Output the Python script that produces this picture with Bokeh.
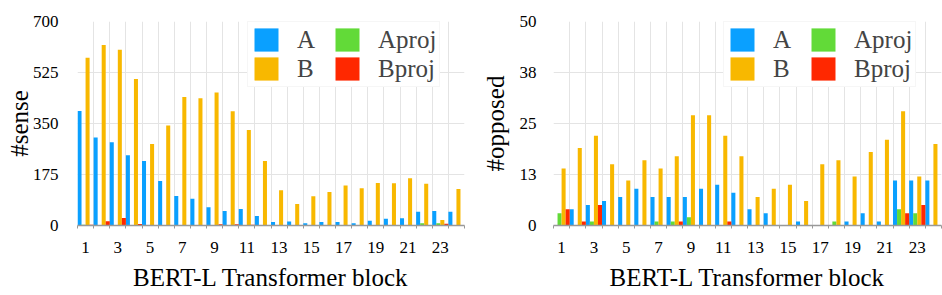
from bokeh.plotting import figure
from bokeh.layouts import row
from bokeh.models import Range1d, FixedTicker, Legend, LegendItem, ColumnDataSource
from bokeh.transform import dodge
from bokeh.embed import file_html
from bokeh.resources import INLINE

blocks = list(range(1, 25))
x_tick_values = [1, 3, 5, 7, 9, 11, 13, 15, 17, 19, 21, 23]
x_boundaries = [b - 0.5 for b in blocks] + [24.5]

series_names = ["A", "Aproj", "B", "Bproj"]
series_colors = ["#0AA0FF", "#62DA38", "#F8B800", "#FF2800"]
series_offsets = [-0.375, -0.125, 0.125, 0.375]

# left panel: #sense
sense_A = [393, 302, 286, 241, 221, 153, 101, 92, 63, 50, 57, 33, 12, 14, 8, 12, 12, 8, 16, 23, 25, 47, 50, 47]
sense_Aproj = [3, 0, 0, 0, 0, 0, 0, 0, 0, 0, 0, 0, 0, 0, 0, 0, 0, 0, 0, 0, 0, 8, 8, 2]
sense_B = [576, 619, 603, 503, 280, 343, 441, 437, 456, 392, 328, 221, 121, 74, 100, 115, 137, 128, 146, 145, 162, 143, 19, 125]
sense_Bproj = [3, 15, 26, 5, 0, 0, 2, 0, 4, 4, 3, 0, 0, 0, 0, 0, 0, 0, 0, 0, 0, 0, 6, 0]
sense_ticks = [0, 175, 350, 525, 700]
sense_tick_labels = ["0", "175", "350", "525", "700"]

# right panel: #opposed
opp_A = [0, 4, 5, 6, 7, 9, 7, 7, 7, 9, 10, 8, 4, 3, 0, 1, 0, 0, 1, 3, 1, 11, 11, 11]
opp_Aproj = [3, 0, 1, 0, 0, 0, 1, 1, 2, 0, 0, 0, 0, 0, 0, 0, 0, 1, 0, 0, 0, 4, 3, 0]
opp_B = [14, 19, 22, 15, 11, 16, 14, 17, 27, 27, 22, 17, 7, 9, 10, 6, 15, 16, 12, 18, 21, 28, 12, 20]
opp_Bproj = [4, 1, 5, 0, 0, 0, 0, 1, 0, 0, 1, 0, 0, 0, 0, 0, 0, 0, 0, 0, 0, 3, 5, 0]
opp_ticks = [0, 12.5, 25, 37.5, 50]
opp_tick_labels = ["0", "13", "25", "38", "50"]

FONT = "Liberation Serif"


def make_panel(values, ymax, yticks, ylabels, ylabel, width, left, right, tick_standoff, label_standoff):
    p = figure(width=width, height=295, x_range=Range1d(0.5, 24.5), y_range=Range1d(0, ymax),
               output_backend="svg", toolbar_location=None,
               min_border_left=left, min_border_right=right, min_border_top=21, min_border_bottom=70)
    p.outline_line_color = None
    src = ColumnDataSource(dict(x=blocks, **dict(zip(series_names, values))))
    rs = {}
    for name, color, off in zip(series_names, series_colors, series_offsets):
        rs[name] = p.vbar(x=dodge("x", off, range=p.x_range), top=name, width=0.25, source=src,
                          fill_color=color, line_color=None)

    p.xaxis.ticker = FixedTicker(ticks=x_tick_values, minor_ticks=x_boundaries)
    p.xaxis.major_tick_line_color = None
    p.xaxis.minor_tick_out = 3
    p.xaxis.minor_tick_in = 0
    p.xaxis.minor_tick_line_color = "#999999"
    p.xaxis.axis_line_color = "#999999"
    p.xaxis.axis_line_width = 1.5
    p.xaxis.axis_label = "BERT-L Transformer block"
    p.xaxis.major_label_standoff = 10

    p.yaxis.ticker = FixedTicker(ticks=yticks)
    p.yaxis.major_label_overrides = {t: l for t, l in zip(yticks, ylabels)}
    p.yaxis.axis_line_color = None
    p.yaxis.major_tick_line_color = None
    p.yaxis.minor_tick_line_color = None
    p.yaxis.axis_label = ylabel
    p.yaxis.major_label_standoff = tick_standoff
    p.yaxis.axis_label_standoff = label_standoff

    for ax in (p.xaxis[0], p.yaxis[0]):
        ax.major_label_text_font = FONT
        ax.major_label_text_font_size = "17px"
        ax.major_label_text_color = "black"
        ax.axis_label_text_font = FONT
        ax.axis_label_text_font_size = "25px"
        ax.axis_label_text_font_style = "normal"
        ax.axis_label_text_color = "black"
    p.xaxis.axis_label_standoff = 8

    p.xgrid.ticker = FixedTicker(ticks=x_boundaries)
    p.ygrid.ticker = FixedTicker(ticks=yticks)
    p.xgrid.grid_line_color = "#e4e4e4"
    p.ygrid.grid_line_color = "#e4e4e4"

    legend = Legend(items=[LegendItem(label=n, renderers=[rs[n]]) for n in ["A", "Aproj", "B", "Bproj"]],
                    orientation="horizontal", ncols=2, location=(170, 138),
                    padding=3, margin=0, spacing=0, label_standoff=16, label_width=35,
                    glyph_width=30, glyph_height=29,
                    label_text_font=FONT, label_text_font_size="25px",
                    border_line_color="#eeeeee", background_fill_color="white", background_fill_alpha=1)
    p.add_layout(legend)
    return p


p1 = make_panel([sense_A, sense_Aproj, sense_B, sense_Bproj], 700, sense_ticks, sense_tick_labels,
                "#sense", 478, 77, 14, 13, -3)
p2 = make_panel([opp_A, opp_Aproj, opp_B, opp_Bproj], 50, opp_ticks, opp_tick_labels,
                "#opposed", 464, 75, 1, 11, 8)

p = row(p1, p2)
open("out.html", "w").write(file_html(p, INLINE))
